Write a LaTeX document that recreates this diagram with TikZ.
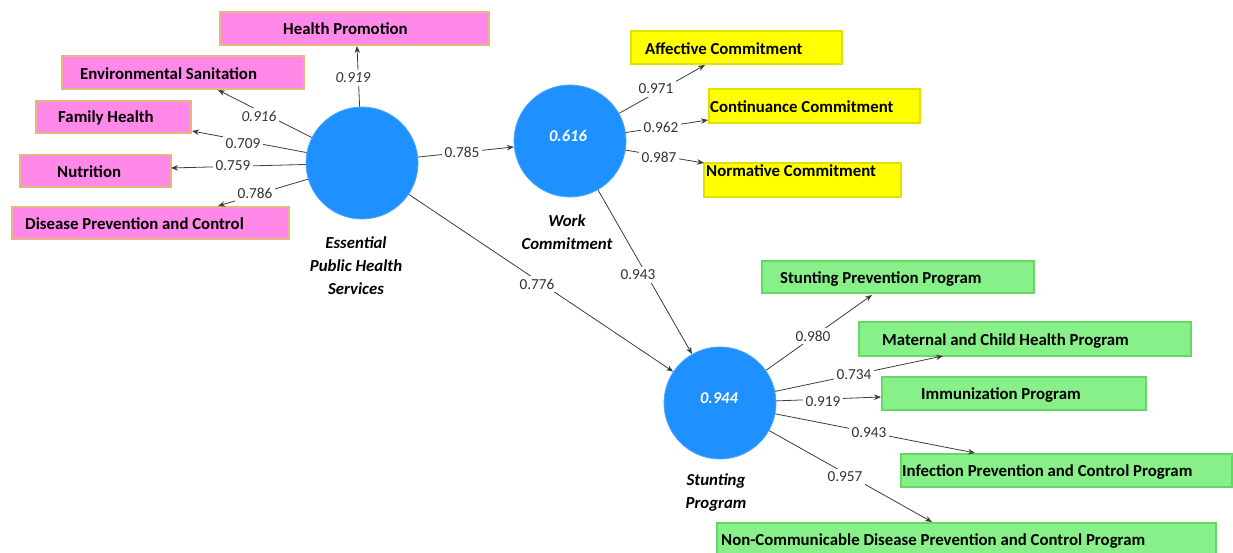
\documentclass[tikz,border=0pt]{standalone}
\usepackage{fontspec}
\setmainfont{Carlito}
\usetikzlibrary{arrows.meta}
\definecolor{pinkfill}{RGB}{255,136,232}
\definecolor{pinkdraw}{RGB}{232,180,130}
\definecolor{yelfill}{RGB}{255,255,0}
\definecolor{yeldraw}{RGB}{225,225,0}
\definecolor{grnfill}{RGB}{136,240,136}
\definecolor{grndraw}{RGB}{100,215,100}
\definecolor{lvblue}{RGB}{30,144,255}
\definecolor{linegray}{RGB}{60,60,60}
\tikzset{
  pinkbox/.style={draw=pinkdraw,fill=pinkfill,line width=1.2pt},
  yelbox/.style={draw=yeldraw,fill=yelfill,line width=1.2pt},
  grnbox/.style={draw=grndraw,fill=grnfill,line width=1.2pt},
  boxtext/.style={anchor=west,inner sep=0pt,font=\fontsize{16.8}{19}\selectfont\bfseries},
  latent/.style={circle,fill=lvblue,draw=lvblue!80!white,line width=0.8pt,minimum size=112pt,inner sep=0pt},
  lvname/.style={align=center,font=\fontsize{16.8}{23}\selectfont\bfseries\itshape,inner sep=0pt},
  lvval/.style={text=white,font=\fontsize{16.5}{18}\selectfont\bfseries\itshape,inner sep=0pt},
  conn/.style={draw=linegray,line width=0.8pt,-{Stealth[length=7pt,width=5.5pt]}},
  wlab/.style={fill=white,inner sep=2.5pt,font=\fontsize{15.3}{17}\selectfont,text=black!80},
  wlabi/.style={wlab,font=\fontsize{15.3}{17}\selectfont\itshape}
}
\begin{document}
\begin{tikzpicture}[x=1pt,y=-1pt]
\useasboundingbox (0,0) rectangle (1233,553);
% pink boxes
\path[pinkbox] (220,12) rectangle (489,45);
\node[boxtext] (hp) at (283,29) {Health Promotion};
\path[pinkbox] (62,56) rectangle (304,89);
\node[boxtext] (es) at (80,74) {Environmental Sanitation};
\path[pinkbox] (36,101) rectangle (191,133);
\node[boxtext] (fh) at (58,118) {Family Health};
\path[pinkbox] (20,155) rectangle (171,187);
\node[boxtext] (nu) at (57,172) {Nutrition};
\path[pinkbox] (12,207) rectangle (289,239);
\node[boxtext] (dp) at (25,224) {Disease Prevention and Control};
% yellow boxes
\path[yelbox] (631,31) rectangle (842,64);
\node[boxtext] (ac) at (645,49) {Affective Commitment};
\path[yelbox] (709,89) rectangle (920,123);
\node[boxtext] (cc) at (710,107) {Continuance Commitment};
\path[yelbox] (704,163) rectangle (901,197);
\node[boxtext] (nc) at (706,171) {Normative Commitment};
% green boxes
\path[grnbox] (762,261) rectangle (1034,293);
\node[boxtext] (spp) at (780,279) {Stunting Prevention Program};
\path[grnbox] (859,322) rectangle (1191,356);
\node[boxtext] (mch) at (882,341) {Maternal and Child Health Program};
\path[grnbox] (882,377) rectangle (1146,410);
\node[boxtext] (imm) at (921,395) {Immunization Program};
\path[grnbox] (901,454) rectangle (1232,487);
\node[boxtext] (ipc) at (902,472) {Infection Prevention and Control Program};
\path[grnbox] (717,523) rectangle (1216,556);
\node[boxtext] (ncd) at (721,541) {Non-Communicable Disease Prevention and Control Program};
% latent variables
\node[latent] (ephs) at (362,163) {};
\node[latent] (wc) at (570,141) {};
\node[latent] (sp) at (720,403) {};
\node[lvval] at (568,136) {0.616};
\node[lvval] at (719,398) {0.944};
\node[lvname] (ephsn) at (356,266) {Essential\\Public Health\\Services};
\node[lvname] (wcn) at (567,232) {Work\\Commitment};
\node[lvname] (spn) at (716,493) {Stunting\\Program};
% arrow tips
\coordinate (thp) at (357,46);
\coordinate (tes) at (218,90);
\coordinate (tfh) at (192,131);
\coordinate (tnu) at (171,168);
\coordinate (tdp) at (218,206);
\coordinate (tac) at (705,65);
\coordinate (tcc) at (708,120);
\coordinate (tnc) at (704,163);
\coordinate (tspp) at (872,295);
\coordinate (tmch) at (943,356);
\coordinate (timm) at (881,397);
\coordinate (tipc) at (975,453);
\coordinate (tncd) at (932,522);
% connectors
\draw[conn] (ephs) -- (thp);
\draw[conn] (ephs) -- (tes);
\draw[conn] (ephs) -- (tfh);
\draw[conn] (ephs) -- (tnu);
\draw[conn] (ephs) -- (tdp);
\draw[conn] (ephs) -- (wc);
\draw[conn] (ephs) -- (sp);
\draw[conn] (wc) -- (sp);
\draw[conn] (wc) -- (tac);
\draw[conn] (wc) -- (tcc);
\draw[conn] (wc) -- (tnc);
\draw[conn] (sp) -- (tspp);
\draw[conn] (sp) -- (tmch);
\draw[conn] (sp) -- (timm);
\draw[conn] (sp) -- (tipc);
\draw[conn] (sp) -- (tncd);
% labels
\node[wlabi] at (353,78) {0.919};
\node[wlabi] at (259,116) {0.916};
\node[wlab] at (243,144) {0.709};
\node[wlab] at (233,166) {0.759};
\node[wlab] at (255,193) {0.786};
\node[wlab] at (462,152) {0.785};
\node[wlab] at (537,284) {0.776};
\node[wlab] at (638,275) {0.943};
\node[wlab] at (656,89) {0.971};
\node[wlab] at (661,127) {0.962};
\node[wlab] at (659,157) {0.987};
\node[wlab] at (813,336) {0.980};
\node[wlab] at (854,375) {0.734};
\node[wlab] at (823,402) {0.919};
\node[wlab] at (869,433) {0.943};
\node[wlab] at (845,477) {0.957};
\end{tikzpicture}
\end{document}
